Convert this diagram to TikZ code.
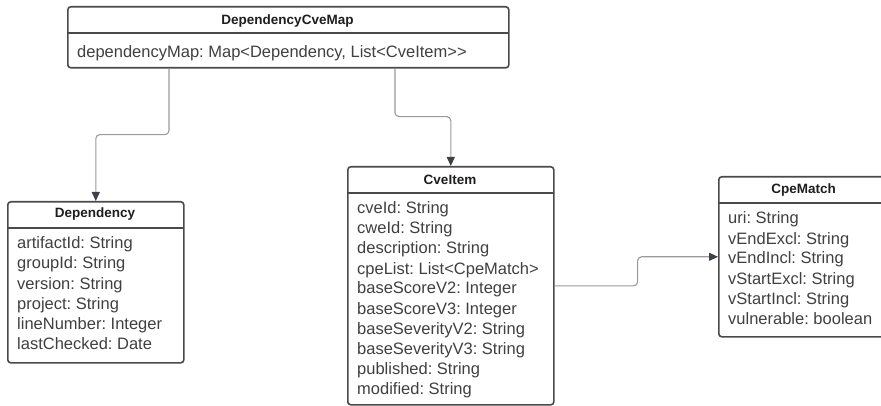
\documentclass[tikz,border=0pt]{standalone}
\usepackage{fontspec}
\setmainfont{Liberation Sans}
\usetikzlibrary{arrows.meta}
\definecolor{boxline}{HTML}{4A4A4A}
\definecolor{txt}{HTML}{404040}
\definecolor{hdrtxt}{HTML}{1E1E1E}
\definecolor{conn}{HTML}{9A9A9A}
\definecolor{tipcol}{HTML}{3A414B}
\frenchspacing
\begin{document}
\begin{tikzpicture}[x=1pt,y=-1pt,
  umlbox/.style={draw=boxline, line width=1.6pt, rounded corners=3pt, fill=white, inner sep=0pt, anchor=north west},
  divider/.style={draw=boxline, line width=1.6pt},
  hdr/.style={font=\fontsize{13.5}{16}\selectfont\bfseries, text=hdrtxt, inner sep=0pt, anchor=base},
  attr/.style={font=\fontsize{16.5}{20}\selectfont, text=txt, anchor=base west, inner sep=0pt},
  link/.style={draw=conn, line width=1.1pt, rounded corners=4pt, -{Triangle[length=9pt,width=8pt,fill=tipcol,color=tipcol]}}]
\useasboundingbox (0,0) rectangle (881,406);
\clip (0,0) rectangle (881,406);

% DependencyCveMap
\node[umlbox, minimum width=441pt, minimum height=61pt] (dcm) at (67,6) {};
\draw[divider] (67,33) -- (508,33);
\node[hdr] (dcmh) at (287.5,25) {DependencyCveMap};
\node[attr] (dcma) at (77,58) {dependencyMap: Map<Dependency, List<CveItem>{}>};

% Dependency
\node[umlbox, minimum width=176pt, minimum height=161pt] (dep) at (7,201) {};
\draw[divider] (7,228) -- (183,228);
\node[hdr] (deph) at (95,218) {Dependency};
\node[attr] (dep1) at (17,249) {artifactId: String};
\node[attr] (dep2) at (17,269) {groupId: String};
\node[attr] (dep3) at (17,289) {version: String};
\node[attr] (dep4) at (17,309) {project: String};
\node[attr] (dep5) at (17,329) {lineNumber: Integer};
\node[attr] (dep6) at (17,349) {lastChecked: Date};

% CveItem
\node[umlbox, minimum width=206pt, minimum height=238pt] (cve) at (347,166) {};
\draw[divider] (347,193) -- (553,193);
\node[hdr] (cveh) at (450,185) {CveItem};
\node[attr] (cve1) at (357,214) {cveId: String};
\node[attr] (cve2) at (357,234) {cweId: String};
\node[attr] (cve3) at (357,254) {description: String};
\node[attr] (cve4) at (357,274) {cpeList: List<CpeMatch>};
\node[attr] (cve5) at (357,294) {baseScoreV2: Integer};
\node[attr] (cve6) at (357,314) {baseScoreV3: Integer};
\node[attr] (cve7) at (357,334) {baseSeverityV2: String};
\node[attr] (cve8) at (357,354) {baseSeverityV3: String};
\node[attr] (cve9) at (357,374) {published: String};
\node[attr] (cve10) at (357,394) {modified: String};

% CpeMatch
\node[umlbox, minimum width=171pt, minimum height=160pt] (cpe) at (718,176) {};
\draw[divider] (718,203) -- (889,203);
\node[hdr] (cpeh) at (803.5,194) {CpeMatch};
\node[attr] (cpe1) at (728,224) {uri: String};
\node[attr] (cpe2) at (728,244) {vEndExcl: String};
\node[attr] (cpe3) at (728,264) {vEndIncl: String};
\node[attr] (cpe4) at (728,284) {vStartExcl: String};
\node[attr] (cpe5) at (728,304) {vStartIncl: String};
\node[attr] (cpe6) at (728,324) {vulnerable: boolean};

% connectors
\draw[link] ([xshift=102pt]dcm.south west) -- ++(0,66) -| (dep.north);
\draw[link] ([xshift=328pt]dcm.south west) -- ++(0,48) -| (cve.north);
\draw[link] (cve.east) -- ++(83,0) |- (cpe.west);
\end{tikzpicture}
\end{document}
